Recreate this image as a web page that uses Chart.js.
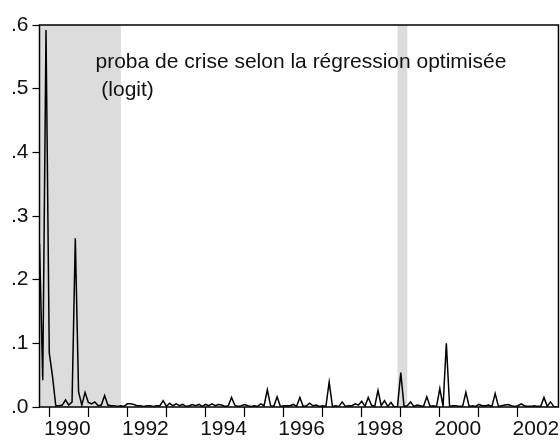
<!DOCTYPE html>
<html>
<head>
<meta charset="utf-8">
<script src="https://cdn.jsdelivr.net/npm/chart.js@4.4.1/dist/chart.umd.min.js"></script>
<style>
  body { margin: 0; background: #fff; }
  #wrap { width: 560px; height: 441px; }
</style>
</head>
<body>
<div id="wrap"><canvas id="probaChart" width="560" height="441"></canvas></div>
<script>
// --- data: monthly crisis probability, first observation 1989M10 ---
const firstMonth = '1989M10';
const probaLogit = [
    0.256, 0.042, 0.592, 0.085, 0.048, 0.002, 0.002, 0.003, 0.011, 0.003,
    0.008, 0.265, 0.024, 0.003, 0.023, 0.007, 0.005, 0.008, 0.002, 0.003,
    0.018, 0.003, 0.002, 0.002, 0.001, 0.002, 0.001, 0.005, 0.005, 0.004,
    0.002, 0.002, 0.001, 0.002, 0.002, 0.001, 0.002, 0.002, 0.010, 0.001,
    0.006, 0.002, 0.005, 0.002, 0.004, 0.001, 0.002, 0.004, 0.002, 0.004,
    0.001, 0.004, 0.002, 0.005, 0.002, 0.004, 0.003, 0.001, 0.002, 0.015,
    0.003, 0.001, 0.002, 0.004, 0.002, 0.001, 0.002, 0.001, 0.005, 0.002,
    0.027, 0.002, 0.001, 0.016, 0.001, 0.002, 0.002, 0.002, 0.004, 0.001,
    0.015, 0.001, 0.002, 0.006, 0.002, 0.003, 0.001, 0.002, 0.001, 0.039,
    0.001, 0.002, 0.001, 0.008, 0.001, 0.002, 0.002, 0.005, 0.003, 0.009,
    0.001, 0.015, 0.003, 0.001, 0.026, 0.002, 0.010, 0.001, 0.007, 0.000,
    0.001, 0.054, 0.001, 0.002, 0.008, 0.001, 0.003, 0.002, 0.001, 0.016,
    0.001, 0.002, 0.001, 0.029, 0.001, 0.100, 0.001, 0.002, 0.002, 0.001,
    0.001, 0.023, 0.001, 0.002, 0.001, 0.004, 0.002, 0.002, 0.003, 0.001,
    0.021, 0.001, 0.002, 0.003, 0.004, 0.002, 0.001, 0.002, 0.005, 0.002,
    0.001, 0.001, 0.002, 0.001, 0.001, 0.015, 0.001, 0.008, 0.001, 0.000
];

// shaded crisis periods (inclusive months)
const crisisFrom = ['1989M10', '1998M12'];
const crisisTo   = ['1991M10', '1999M02'];

const yearTicks    = [1990, 1991, 1992, 1993, 1994, 1995, 1996, 1997, 1998, 1999, 2000, 2001, 2002];
const labeledYears = [1990, 1992, 1994, 1996, 1998, 2000, 2002];
const yTicks       = [0, 0.1, 0.2, 0.3, 0.4, 0.5, 0.6];
const noteLines    = ['proba de crise selon la régression optimisée', ' (logit)'];

// months since the first observation
function monthIndex(label) {
    const [y0, m0] = firstMonth.split('M').map(Number);
    const [y, m] = label.split('M').map(Number);
    return (y - y0) * 12 + (m - m0);
}

const points = probaLogit.map((v, i) => ({ x: i, y: v }));
const quarterTicks = probaLogit.map((v, i) => i).filter(i => i % 3 === 0);
const xMax = probaLogit.length - 0.55;

const FONT = "'Liberation Sans', Arial, sans-serif";

// grey bands behind the line
const crisisBands = {
    id: 'crisisBands',
    beforeDatasetsDraw(chart) {
        const { ctx, chartArea, scales } = chart;
        ctx.save();
        ctx.fillStyle = '#dcdcdc';
        crisisFrom.forEach((from, k) => {
            const x0 = scales.x.getPixelForValue(monthIndex(from));
            const x1 = scales.x.getPixelForValue(monthIndex(crisisTo[k]) + 1);
            ctx.fillRect(x0, chartArea.top, x1 - x0, chartArea.bottom - chartArea.top);
        });
        ctx.restore();
    }
};

// text note and frame
const noteAndFrame = {
    id: 'noteAndFrame',
    afterDatasetsDraw(chart) {
        const { ctx, chartArea } = chart;
        ctx.save();
        ctx.fillStyle = '#111';
        ctx.font = '21px ' + FONT;
        ctx.textBaseline = 'alphabetic';
        noteLines.forEach((line, i) => {
            ctx.fillText(line, chartArea.left + 56, chartArea.top + 43 + i * 28);
        });
        ctx.restore();
    },
    afterDraw(chart) {
        const { ctx, chartArea } = chart;
        ctx.save();
        ctx.strokeStyle = '#000';
        ctx.lineWidth = 1.5;
        ctx.strokeRect(chartArea.left, chartArea.top, chartArea.right - chartArea.left, chartArea.bottom - chartArea.top);
        ctx.restore();
    }
};

new Chart(document.getElementById('probaChart'), {
    type: 'line',
    data: {
        datasets: [{
            label: 'proba de crise (logit)',
            data: points,
            borderColor: '#000',
            borderWidth: 1.5,
            pointRadius: 0,
            tension: 0,
            fill: false
        }]
    },
    options: {
        responsive: false,
        animation: false,
        layout: { padding: { top: 25, right: 1, left: 0, bottom: 0 } },
        plugins: {
            legend: { display: false },
            tooltip: { enabled: false }
        },
        scales: {
            x: {
                type: 'linear',
                position: 'bottom',
                weight: 2,
                min: 0,
                max: xMax,
                afterBuildTicks: axis => { axis.ticks = quarterTicks.map(v => ({ value: v })); },
                afterFit: axis => { axis.height = 0; },
                border: { display: false },
                grid: { drawOnChartArea: false, tickLength: 6, color: '#000', tickWidth: 1.2 },
                ticks: { autoSkip: false, maxRotation: 0, callback: () => '' }
            },
            years: {
                type: 'linear',
                position: 'bottom',
                weight: 1,
                min: 0,
                max: xMax,
                afterBuildTicks: axis => {
                    axis.ticks = yearTicks.map(y => ({ value: monthIndex(y + 'M1') }));
                },
                afterFit: axis => { axis.height = 34; },
                border: { display: false },
                grid: { drawOnChartArea: false, tickLength: 10, color: '#000', tickWidth: 1.2 },
                ticks: {
                    autoSkip: false,
                    maxRotation: 0,
                    padding: 0,
                    labelOffset: 18,
                    color: '#111',
                    font: { family: FONT, size: 21 },
                    callback: (v, i) => labeledYears.includes(yearTicks[i]) ? String(yearTicks[i]) : ''
                }
            },
            y: {
                min: 0,
                max: 0.6,
                afterBuildTicks: axis => { axis.ticks = yTicks.map(v => ({ value: v })); },
                afterFit: axis => { axis.width = 39.5; },
                border: { display: false },
                grid: { drawOnChartArea: false, tickLength: 7, color: '#000', tickWidth: 1.2 },
                ticks: {
                    padding: 4,
                    color: '#111',
                    font: { family: FONT, size: 21 },
                    callback: v => v.toFixed(1).replace(/^0/, '')
                }
            }
        }
    },
    plugins: [crisisBands, noteAndFrame]
});
</script>
</body>
</html>
